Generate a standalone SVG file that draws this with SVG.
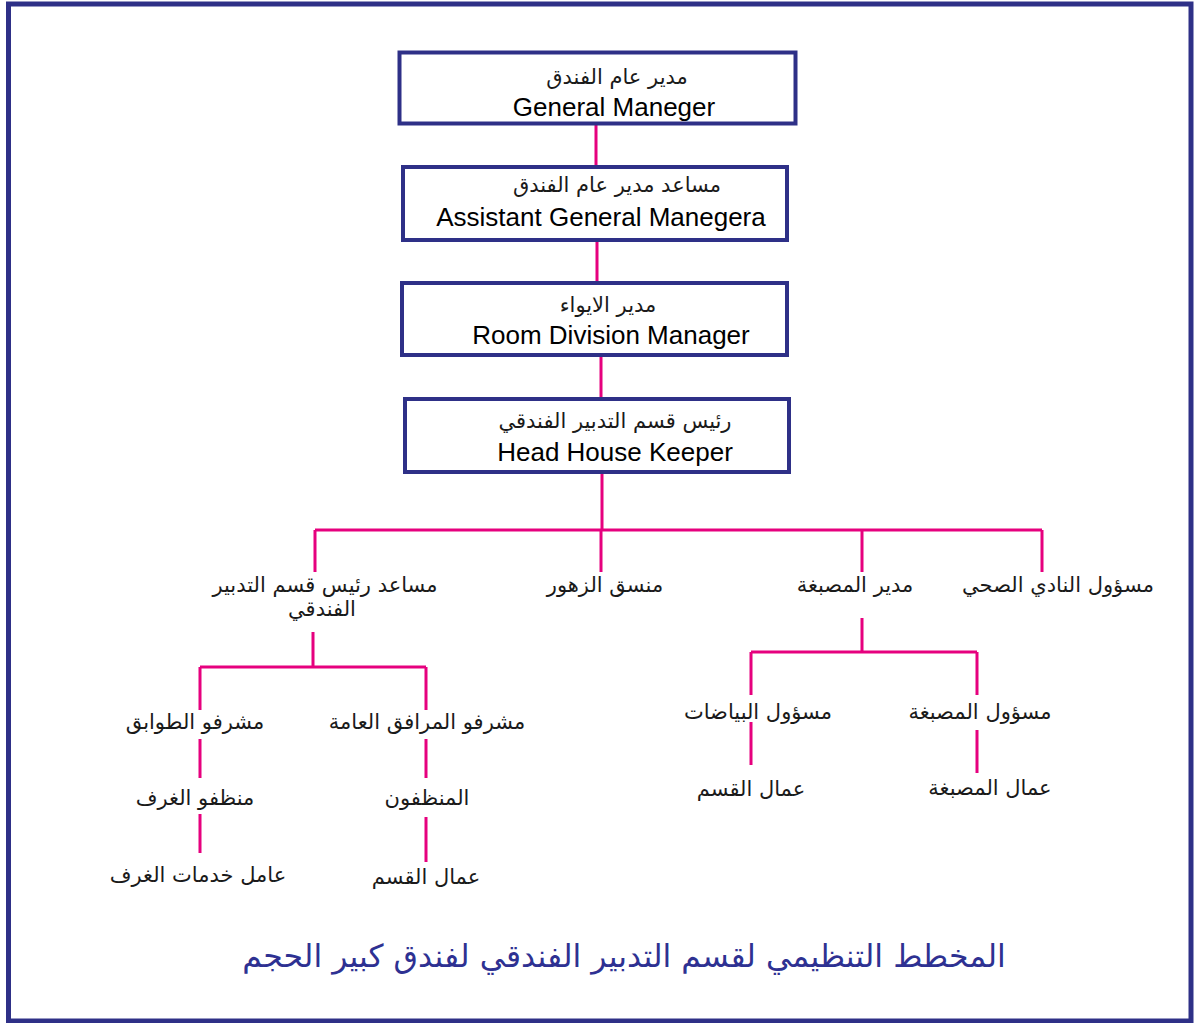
<svg xmlns="http://www.w3.org/2000/svg" width="1194" height="1023" viewBox="0 0 1194 1023">
<style>
.frame{fill:none;stroke:#2e3087;stroke-width:5}
.box{fill:#fff;stroke:#2e3087;stroke-width:4}
.ln{fill:none;stroke:#e6007e;stroke-width:3}
.ar{font-family:"DejaVu Sans",sans-serif;font-size:21px;fill:#1a1a1a;text-anchor:middle}
.en{font-family:"Liberation Sans",Arial,sans-serif;font-size:26px;fill:#000;text-anchor:middle}
.title{font-family:"DejaVu Sans",sans-serif;font-size:31.5px;fill:#2e3192;text-anchor:middle}
</style>
<rect class="frame" x="8.5" y="4" width="1182.5" height="1017"/>
<g id="connectors">
<path class="ln" d="M596 125V167M597 240V283M601 355V399M602 472V530M315 530H1042M315 530V572M601 530V572M862 530V572M1042 530V572"/>
<path class="ln" d="M313 632V667M200 667H426M200 667V710M426 667V710M200 739V778M200 814V853M426 739V778M426 817V862"/>
<path class="ln" d="M862 618V652M751 652H977M751 652V695M977 652V695M751 722V765M977 730V773"/>
</g>
<g id="n1"><rect class="box" x="399.5" y="52.5" width="396" height="71"/><text class="ar" x="617" y="84">مدير عام الفندق</text><text class="en" x="614" y="116">General Maneger</text></g>
<g id="n2"><rect class="box" x="403" y="167" width="384" height="73"/><text class="ar" x="617" y="192">مساعد مدير عام الفندق</text><text class="en" x="601" y="226">Assistant General Manegera</text></g>
<g id="n3"><rect class="box" x="402" y="283" width="385" height="72"/><text class="ar" x="608" y="312">مدير الايواء</text><text class="en" x="611" y="344">Room Division Manager</text></g>
<g id="n4"><rect class="box" x="405" y="399" width="384" height="73"/><text class="ar" x="615" y="428">رئيس قسم التدبير الفندقي</text><text class="en" x="615" y="461">Head House Keeper</text></g>
<g id="n5"><text class="ar" x="325" y="592">مساعد رئيس قسم التدبير</text><text class="ar" x="322" y="616">الفندقي</text></g>
<g id="n6"><text class="ar" x="605" y="592">منسق الزهور</text></g>
<g id="n7"><text class="ar" x="855" y="592">مدير المصبغة</text></g>
<g id="n8"><text class="ar" x="1058" y="592">مسؤول النادي الصحي</text></g>
<g id="n9"><text class="ar" x="195" y="729">مشرفو الطوابق</text></g>
<g id="n10"><text class="ar" x="427" y="729">مشرفو المرافق العامة</text></g>
<g id="n11"><text class="ar" x="195" y="805">منظفو الغرف</text></g>
<g id="n12"><text class="ar" x="198" y="882">عامل خدمات الغرف</text></g>
<g id="n13"><text class="ar" x="427" y="805">المنظفون</text></g>
<g id="n14"><text class="ar" x="426" y="884">عمال القسم</text></g>
<g id="n15"><text class="ar" x="758" y="719">مسؤول البياضات</text></g>
<g id="n16"><text class="ar" x="751" y="796">عمال القسم</text></g>
<g id="n17"><text class="ar" x="980" y="719">مسؤول المصبغة</text></g>
<g id="n18"><text class="ar" x="990" y="795">عمال المصبغة</text></g>
<text class="title" x="624" y="967">المخطط التنظيمي لقسم التدبير الفندقي لفندق كبير الحجم</text>
</svg>
